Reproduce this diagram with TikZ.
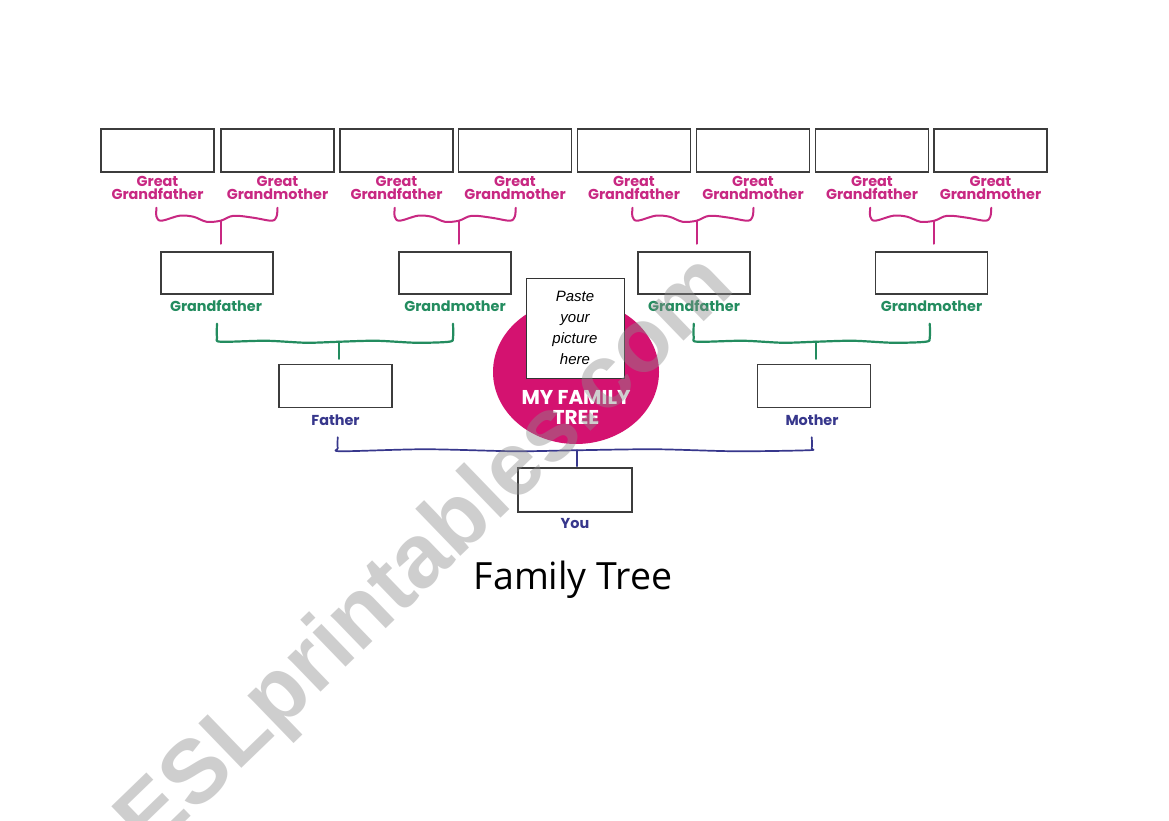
\documentclass[tikz,border=0pt]{standalone}
\usepackage{fontspec}
\setmainfont{Liberation Sans}
\newfontfamily\lblfont{Poppins}
\newfontfamily\titlefont{Open Sans}
\newfontfamily\wmfont{Liberation Sans}
\usetikzlibrary{calc,shapes.geometric}
\definecolor{pinkT}{RGB}{200,40,130}
\definecolor{greenT}{RGB}{35,140,95}
\definecolor{navyT}{RGB}{55,55,140}
\definecolor{logoPink}{RGB}{212,18,112}
\definecolor{boxLine}{RGB}{60,60,60}
\tikzset{
  famBox/.style={draw=boxLine, line width=1.5pt, fill=white, minimum width=113pt, minimum height=43pt, inner sep=0pt},
  lbl/.style={font=\lblfont\bfseries\fontsize{14.4}{13}\selectfont, align=center, inner sep=0pt},
  pinklbl/.style={lbl, text=pinkT},
  greenlbl/.style={lbl, text=greenT},
  navylbl/.style={lbl, text=navyT},
  pbrace/.pic={
    \draw[pinkT, line width=2pt, line cap=round, line join=round]
      plot[smooth, tension=0.55] coordinates {(-61,-36) (-61,-27) (-56,-23) (-38,-28) (-24,-27) (-11,-22) (3,-23) (16,-28) (36,-26) (54,-23) (59,-27) (60,-36)};
    \draw[pinkT, line width=2pt, line cap=round] (3,-23) -- (3,0);
  },
  gbrace/.pic={
    \draw[greenT, line width=2.2pt, line cap=round, line join=round]
      plot[smooth, tension=0.5] coordinates {(-119,-35) (-119,-21) (-115,-17) (-70,-18) (-30,-16) (3,-17) (40,-18) (80,-16) (113,-17) (117,-21) (117,-35)};
    \draw[greenT, line width=2.2pt, line cap=round] (3,-17) -- (3,0);
  },
  bbrace/.pic={
    \draw[navyT, line width=1.7pt, line cap=round, line join=round]
      plot[smooth, tension=0.5] coordinates {(-237,-29) (-237,-18) (-233,-15) (-150,-17) (-60,-15) (2,-16) (80,-17) (160,-15) (233,-16) (237,-18) (237,-29)};
    \draw[navyT, line width=1.7pt, line cap=round] (2,-16) -- (2,0);
  }
}
\begin{document}
\begin{tikzpicture}[x=1pt,y=-1pt]
\useasboundingbox (0,0) rectangle (1169,821);
\fill[white] (0,0) rectangle (1169,821);

% great grandparents
\foreach \i/\x/\who in {1/157.5/father, 2/277.5/mother, 3/396.5/father, 4/515/mother, 5/634/father, 6/753/mother, 7/872/father, 8/990.5/mother}{
  \node[famBox] (gg\i) at (\x,150.5) {};
  \node[pinklbl] (ggl\i) at (\x,188) {Great\\Grand\who};
}

% grandparents
\node[famBox, minimum width=112pt, minimum height=42pt] (gf1) at (217,273) {};
\node[famBox, minimum width=112pt, minimum height=42pt] (gm1) at (455,273) {};
\node[famBox, minimum width=112pt, minimum height=42pt] (gf2) at (694,273) {};
\node[famBox, minimum width=112pt, minimum height=42pt] (gm2) at (931.5,273) {};
\node[greenlbl] (gfl1) at (216,306) {Grandfather};
\node[greenlbl] (gml1) at (455,306) {Grandmother};
\node[greenlbl] (gfl2) at (694,306) {Grandfather};
\node[greenlbl] (gml2) at (931.5,306) {Grandmother};

% parents
\node[famBox] (father) at (335.5,386) {};
\node[famBox] (mother) at (814,386) {};
\node[navylbl] (fatherl) at (335.5,420) {Father};
\node[navylbl] (motherl) at (812,420) {Mother};

% you
\node[famBox, minimum width=114pt, minimum height=44pt] (you) at (575,490) {};
\node[navylbl] (youl) at (575,523) {You};

% braces
\pic at ($(gg1.south)!0.5!(gg2.south)+(0,71)$) {pbrace};
\pic at ($(gg3.south)!0.5!(gg4.south)+(0,71)$) {pbrace};
\pic at ($(gg5.south)!0.5!(gg6.south)+(0,71)$) {pbrace};
\pic at ($(gg7.south)!0.5!(gg8.south)+(0,71)$) {pbrace};
\pic at ($(gf1.south)!0.5!(gm1.south)+(0,64)$) {gbrace};
\pic at ($(gf2.south)!0.5!(gm2.south)+(0,64)$) {gbrace};
\pic at ($(father.south)!0.5!(mother.south)+(0,58)$) {bbrace};

% logo
\node[ellipse, fill=logoPink, minimum width=166pt, minimum height=144pt, inner sep=0pt] (logo) at (576,372) {};
\node[draw=black!80, line width=0.9pt, fill=white, minimum width=98pt, minimum height=100pt, inner sep=0pt,
      align=center, font=\itshape\fontsize{15}{21}\selectfont] (photo) at (575,328) {Paste\\your\\picture\\here};
\node[align=center, text=white, font=\lblfont\bfseries\fontsize{20}{20.5}\selectfont, inner sep=0pt] (logotext) at (576,407.5) {MY FAMILY\\TREE};

% title
\node[font=\titlefont\fontsize{37.5}{37.5}\selectfont, inner sep=0pt] (title) at (573,580) {Family Tree};

% watermark
\node[rotate=44, font=\wmfont\bfseries\fontsize{90}{90}\selectfont, text=black!45, opacity=0.42, inner sep=0pt] (wm) at (428,556) {ESLprintables.com};
\end{tikzpicture}
\end{document}
